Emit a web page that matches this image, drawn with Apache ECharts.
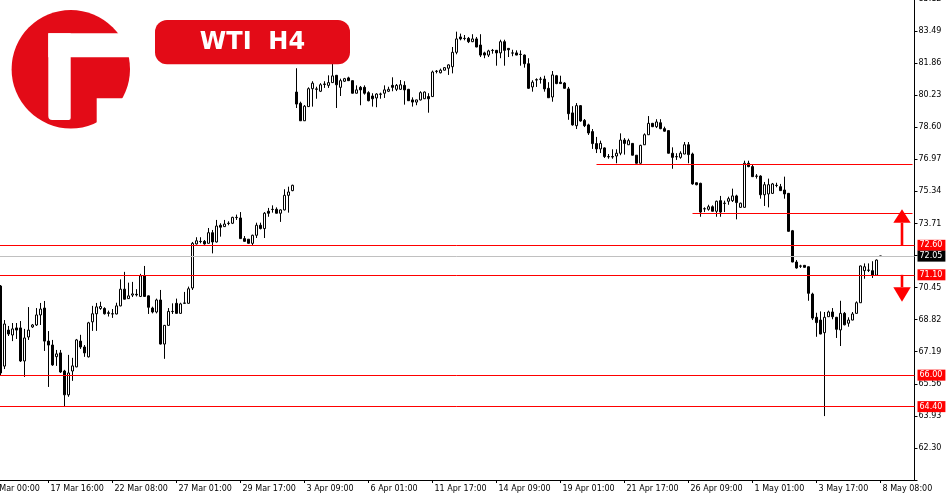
<!DOCTYPE html>
<html><head><meta charset="utf-8">
<script src="https://cdn.jsdelivr.net/npm/echarts@6/dist/echarts.min.js"></script>
<style>html,body{margin:0;padding:0;background:#fff}#c{width:950px;height:500px}</style>
</head><body><div id="c"></div>
<script>
// ---- data ----
const tickLabels = ['15 Mar 00:00','17 Mar 16:00','22 Mar 08:00','27 Mar 01:00','29 Mar 17:00','3 Apr 09:00','6 Apr 01:00','11 Apr 17:00','14 Apr 09:00','19 Apr 01:00','21 Apr 17:00','26 Apr 09:00','1 May 01:00','3 May 17:00','8 May 08:00'];
const tickEvery = 16;      // H4 bars between time labels
const leadSlots = 4;       // bars before the first visible bar (first label sits there)
const trailSlots = 8;      // empty bars right of the last bar
// H4 bars: [open, close, low, high]
const candles = [
[70.53,66.11,65.96,70.58],[66.46,68.60,66.31,68.80],[68.29,68.09,67.99,68.50],[68.04,68.35,67.73,68.65],[68.40,68.29,67.84,68.65],
[68.40,66.72,66.67,68.75],[66.72,67.89,65.91,68.35],[67.94,68.29,67.79,69.46],[68.45,68.55,68.40,68.60],[68.55,69.06,68.50,69.41],
[69.06,69.36,68.55,69.67],[69.41,67.73,67.23,69.77],[67.73,67.53,65.40,68.24],[67.53,66.52,66.47,67.79],[66.94,67.08,66.47,67.28],
[67.13,66.16,66.11,67.28],[66.21,65.00,64.39,66.27],[65.00,66.11,64.90,67.03],[66.21,66.47,65.71,66.88],[66.42,67.79,66.40,67.84],
[67.73,67.43,67.33,68.05],[67.43,67.13,66.93,67.53],[66.93,68.66,66.90,68.71],[68.71,69.12,68.25,69.52],[69.12,69.47,68.25,69.67],
[69.39,69.49,69.32,69.73],[69.39,69.12,69.08,69.45],[69.17,69.14,68.98,69.28],[69.12,69.11,68.91,69.36],[69.11,69.52,69.09,69.68],
[69.52,70.37,69.50,70.87],[70.37,69.86,69.85,71.25],[69.89,70.03,69.88,70.70],[70.07,70.13,69.97,70.74],[70.11,70.08,70.00,70.37],
[70.00,71.05,69.97,71.15],[71.05,70.00,69.98,71.55],[70.03,69.45,69.11,70.05],[69.41,69.21,69.14,69.48],[69.21,69.82,69.14,69.89],
[69.82,67.58,67.56,70.33],[67.58,68.53,66.83,68.55],[68.53,69.24,68.52,69.41],[69.24,69.23,69.11,69.65],[69.65,69.14,69.13,69.89],
[69.14,69.62,69.13,69.68],[69.65,69.67,69.62,70.23],[69.65,70.39,69.64,70.50],[70.43,72.70,70.33,72.77],[72.67,72.83,72.64,73.01],
[72.80,72.79,72.70,73.01],[72.80,72.67,72.63,72.87],[72.70,73.24,72.69,73.48],[73.24,72.77,72.19,73.38],[72.77,73.58,72.74,73.89],
[73.62,73.52,73.04,73.72],[73.55,73.68,73.53,73.89],[73.72,73.71,73.62,73.82],[73.72,74.02,73.68,74.05],[74.02,74.01,73.89,74.16],
[73.99,72.94,72.92,74.29],[72.94,72.80,72.79,73.07],[72.91,72.70,72.69,72.92],[72.70,73.11,72.60,73.14],[73.11,73.62,72.97,73.75],
[73.62,73.45,73.41,73.75],[73.45,74.23,72.97,74.29],[74.33,74.23,74.05,74.50],[74.43,74.42,74.26,74.63],[74.43,74.23,74.22,74.53],
[74.23,74.40,73.79,74.43],[74.40,75.14,74.37,75.45],[75.14,75.31,74.26,75.58],[75.38,75.65,75.35,75.68],[80.39,79.78,79.58,81.60],
[79.82,78.93,78.92,79.90],[78.93,79.67,78.92,79.73],[79.65,80.56,79.63,80.63],[80.56,80.84,79.65,80.94],[80.55,80.53,80.05,80.66],
[80.43,80.76,80.39,80.84],[80.80,80.78,80.60,80.94],[80.73,80.87,80.60,81.24],[80.87,81.21,80.85,81.82],[81.24,80.76,79.58,81.26],
[80.63,80.97,80.19,81.07],[80.94,81.07,80.90,81.11],[81.11,80.97,80.95,81.17],[80.97,80.33,80.32,80.98],[80.33,80.50,80.32,80.73],
[80.63,80.50,79.72,80.70],[80.63,80.33,80.26,80.73],[80.36,79.95,79.92,80.43],[80.19,80.05,79.65,80.33],[80.09,80.29,79.62,80.33],
[80.29,80.28,80.05,80.36],[80.33,80.50,80.09,80.73],[80.43,80.53,80.39,80.66],[80.73,80.63,80.43,81.14],[80.53,80.73,80.44,80.80],
[80.53,80.76,80.50,81.00],[80.73,80.50,79.75,80.94],[80.53,79.95,79.94,80.55],[79.99,79.88,79.65,80.12],[79.88,79.99,79.72,80.00],
[79.99,80.36,79.96,80.43],[80.05,80.39,80.04,80.42],[80.16,80.05,79.34,80.33],[80.16,81.41,80.14,81.48],[81.45,81.44,81.34,81.51],
[81.37,81.50,81.34,81.58],[81.50,81.63,81.49,81.66],[81.60,81.77,81.26,81.80],[81.68,82.41,81.34,82.68],[82.41,83.09,82.31,83.46],
[83.19,83.09,83.02,83.36],[83.12,83.11,83.02,83.29],[83.12,82.95,82.88,83.19],[82.95,83.09,82.93,83.33],[83.09,82.68,82.67,83.19],
[82.78,82.27,82.17,83.33],[82.38,82.27,82.11,82.44],[82.27,82.48,82.17,82.54],[82.51,82.50,82.34,82.58],[82.51,82.38,81.73,82.53],
[82.38,82.95,82.11,83.05],[82.95,82.51,81.73,83.05],[82.61,82.54,82.17,82.63],[82.38,82.37,82.21,82.54],[82.38,82.27,82.26,82.51],
[82.31,82.30,81.73,82.51],[82.27,81.83,81.63,82.30],[81.83,80.58,80.55,82.11],[80.65,80.89,80.41,80.99],[81.02,81.00,80.65,81.09],
[81.05,81.04,80.82,81.16],[81.05,80.55,80.41,81.22],[80.58,80.10,80.09,80.89],[80.14,81.26,79.90,81.46],[81.22,80.82,80.79,81.26],
[80.89,80.82,80.80,81.22],[80.85,80.58,80.57,80.89],[80.55,79.29,78.98,80.65],[79.33,78.72,78.68,79.67],[78.68,79.70,78.51,79.83],
[79.70,78.92,78.88,79.73],[78.95,78.68,78.61,79.02],[78.72,78.31,78.21,78.78],[78.38,77.77,77.50,78.51],[77.77,77.50,77.29,78.11],
[77.50,77.78,77.29,77.92],[77.55,77.11,77.04,77.58],[77.11,77.10,77.00,77.24],[77.11,77.09,77.00,77.48],[77.14,77.28,76.77,77.48],
[77.28,77.95,77.18,78.29],[77.95,77.78,77.21,78.05],[77.71,77.92,77.70,78.02],[77.78,77.18,77.17,77.80],[77.18,76.77,76.76,77.19],
[76.77,77.68,76.76,77.71],[77.71,78.22,77.70,78.29],[78.22,78.80,78.21,79.17],[78.80,78.63,78.61,78.82],[78.63,78.87,78.56,79.01],
[78.83,78.53,78.50,79.01],[78.53,78.40,78.38,78.63],[78.43,77.28,77.27,78.44],[77.28,77.07,76.49,77.58],[77.11,77.10,76.94,77.28],
[77.07,77.28,77.00,77.38],[77.24,77.71,77.23,77.85],[77.71,77.21,76.77,77.85],[77.24,75.72,75.68,77.31],[75.78,75.68,75.65,75.80],
[75.75,74.29,74.05,75.78],[74.46,74.45,74.29,74.53],[74.43,74.56,74.36,74.66],[74.56,74.33,74.32,74.63],[74.33,74.84,74.05,74.87],
[74.87,74.29,74.05,75.11],[74.74,74.73,74.29,74.87],[74.84,74.97,74.66,75.07],[74.87,75.11,74.80,75.48],[75.11,74.77,73.92,75.17],
[74.53,74.74,74.50,74.77],[74.53,76.77,74.52,76.90],[76.77,76.60,76.57,76.90],[76.60,76.09,76.07,76.70],[76.12,76.11,75.99,76.22],
[76.12,75.17,74.97,76.16],[75.17,75.68,74.60,75.82],[75.21,75.68,74.53,75.99],[75.24,75.72,75.21,75.77],[75.65,75.64,75.55,75.78],
[75.58,75.38,75.36,75.72],[75.41,75.21,74.97,76.09],[75.24,73.31,73.30,75.26],[73.34,71.75,71.74,73.38],[71.75,71.45,71.41,71.85],
[71.55,71.54,71.45,71.61],[71.58,71.48,71.47,71.60],[71.51,70.16,69.78,71.52],[70.12,68.90,68.80,70.19],[68.94,68.67,67.95,69.17],
[68.80,68.09,68.08,69.24],[68.16,68.94,63.92,69.21],[68.97,69.21,68.96,69.28],[69.21,68.97,68.84,69.41],[68.94,68.33,67.89,68.96],
[68.30,69.14,67.48,69.78],[69.14,68.56,68.53,69.21],[68.64,68.80,68.46,68.94],[68.80,69.11,68.79,69.21],[69.14,69.68,69.13,69.75],
[69.68,71.55,69.67,71.57],[71.31,71.51,70.90,71.68],[71.34,71.33,71.24,71.68],[71.31,71.08,70.94,71.79],[71.08,71.85,71.07,71.88],
[72.05,72.05,72.05,72.05]
];
const levels = [72.60, 71.10, 66.00, 64.40];      // labelled horizontal levels
const bidPrice = 72.05;
const zoneLines = [ {value: 76.72, fromBar: 149}, {value: 74.24, fromBar: 173} ];
const yMin = 60.67, yMax = 85.12, yStep = 1.63;
const arrowUp = {from: 72.60, base: 73.75, tip: 74.43};
const arrowDown = {from: 71.10, base: 70.47, tip: 69.73};

// ---- build ----
const RED = '#ff0000', BRAND = '#e30b17', FONT = 'DejaVu Sans';
const total = leadSlots + candles.length + trailSlots;
const categories = Array.from({length: total}, (_, j) => String(j));
const empty = ['-','-','-','-'];
const seriesData = [];
for (let j = 0; j < total; j++) {
  const i = j - leadSlots;
  seriesData.push(i >= 0 && i < candles.length ? candles[i] : empty);
}
const redLine = {color: RED, width: 1, type: 'solid'};
const boxLabel = (txt, bg) => ({show: true, position: 'end', distance: 3, formatter: txt,
  color: '#fff', backgroundColor: bg, fontFamily: FONT, fontSize: 8, lineHeight: 9, padding: [1, 3, 1, 2]});
const mlData = levels.map(v => ({yAxis: v, lineStyle: redLine, label: boxLabel(v.toFixed(2), RED)}));
mlData.push({yAxis: bidPrice, lineStyle: {color: '#c0c0c0', width: 1, type: 'solid'}, label: boxLabel(bidPrice.toFixed(2), '#000')});
zoneLines.forEach(z => mlData.push([
  {coord: [String(z.fromBar + leadSlots), z.value], lineStyle: redLine, label: {show: false}},
  {coord: [String(total - 1), z.value], lineStyle: redLine, label: {show: false}}
]));

const chart = echarts.init(document.getElementById('c'), null, {renderer: 'canvas'});
const tickFn = (idx) => idx % tickEvery === 0;
chart.setOption({
  animation: false,
  backgroundColor: '#fff',
  textStyle: {fontFamily: FONT},
  grid: {left: -17.5, right: 35.5, top: -1, bottom: 20, containLabel: false, outerBoundsMode: 'none'},
  xAxis: {
    type: 'category', data: categories, boundaryGap: true,
    axisLine: {lineStyle: {color: '#000', width: 1}},
    axisTick: {show: true, interval: tickFn, alignWithLabel: true, length: 3, lineStyle: {color: '#000'}},
    axisLabel: {interval: tickFn, formatter: (v, idx) => tickLabels[Math.round(idx / tickEvery)] || '',
      align: 'left', padding: [0, 0, 0, 2], margin: 5, color: '#000', fontFamily: FONT, fontSize: 8, hideOverlap: false},
    splitLine: {show: false}
  },
  yAxis: {
    type: 'value', position: 'right', min: yMin, max: yMax, interval: yStep, scale: true,
    axisLine: {show: true, lineStyle: {color: '#000', width: 1}},
    axisTick: {show: true, length: 3, lineStyle: {color: '#000'}},
    axisLabel: {margin: 4, color: '#000', fontFamily: FONT, fontSize: 8,
      formatter: v => (v < yMin + 0.5 ? '' : v.toFixed(2))},
    splitLine: {show: false}
  },
  series: [{
    type: 'candlestick', data: seriesData, barWidth: 2,
    itemStyle: {color: '#fff', color0: '#000', borderColor: '#000', borderColor0: '#000', borderColorDoji: '#000', borderWidth: 1},
    markLine: {silent: true, symbol: ['none', 'none'], animation: false, lineStyle: redLine, data: mlData}
  }]
});

function drawDecor() {
  const yp = v => chart.convertToPixel({yAxisIndex: 0}, v);
  const gridRight = 950 - 35.5;
  const cx = gridRight - 12.5;
  const hw = 8.7, sw = 1.3;
  const arrow = (a) => {
    const yFrom = yp(a.from), yBase = yp(a.base), yTip = yp(a.tip);
    return [
      {type: 'rect', shape: {x: cx - sw, y: Math.min(yFrom, yBase), width: sw * 2, height: Math.abs(yFrom - yBase)}, style: {fill: RED}, z: 100},
      {type: 'polygon', shape: {points: [[cx, yTip], [cx - hw, yBase], [cx + hw, yBase]]}, style: {fill: RED}, z: 100}
    ];
  };
  chart.setOption({graphic: [
    // logo
    {type: 'circle', shape: {cx: 70.8, cy: 69.2, r: 59.2}, style: {fill: BRAND}, z: 100},
    {type: 'rect', shape: {x: 48.3, y: 33.3, width: 90, height: 24}, style: {fill: '#fff'}, z: 101},
    {type: 'rect', shape: {x: 48.3, y: 33.3, width: 22.4, height: 86.7, r: [0, 0, 2, 4]}, style: {fill: '#fff'}, z: 101},
    {type: 'rect', shape: {x: 96.7, y: 98.3, width: 40, height: 40}, style: {fill: '#fff'}, z: 101},
    // title
    {type: 'rect', shape: {x: 155, y: 20, width: 195, height: 44.3, r: 12}, style: {fill: BRAND}, z: 100},
    {type: 'text', x: 252.5, y: 42.5, style: {text: 'WTI  H4', fill: '#fff', font: 'bold 24px "DejaVu Sans"', align: 'center', verticalAlign: 'middle'}, z: 101},
    ...arrow(arrowUp), ...arrow(arrowDown)
  ]});
}
drawDecor();
</script></body></html>
